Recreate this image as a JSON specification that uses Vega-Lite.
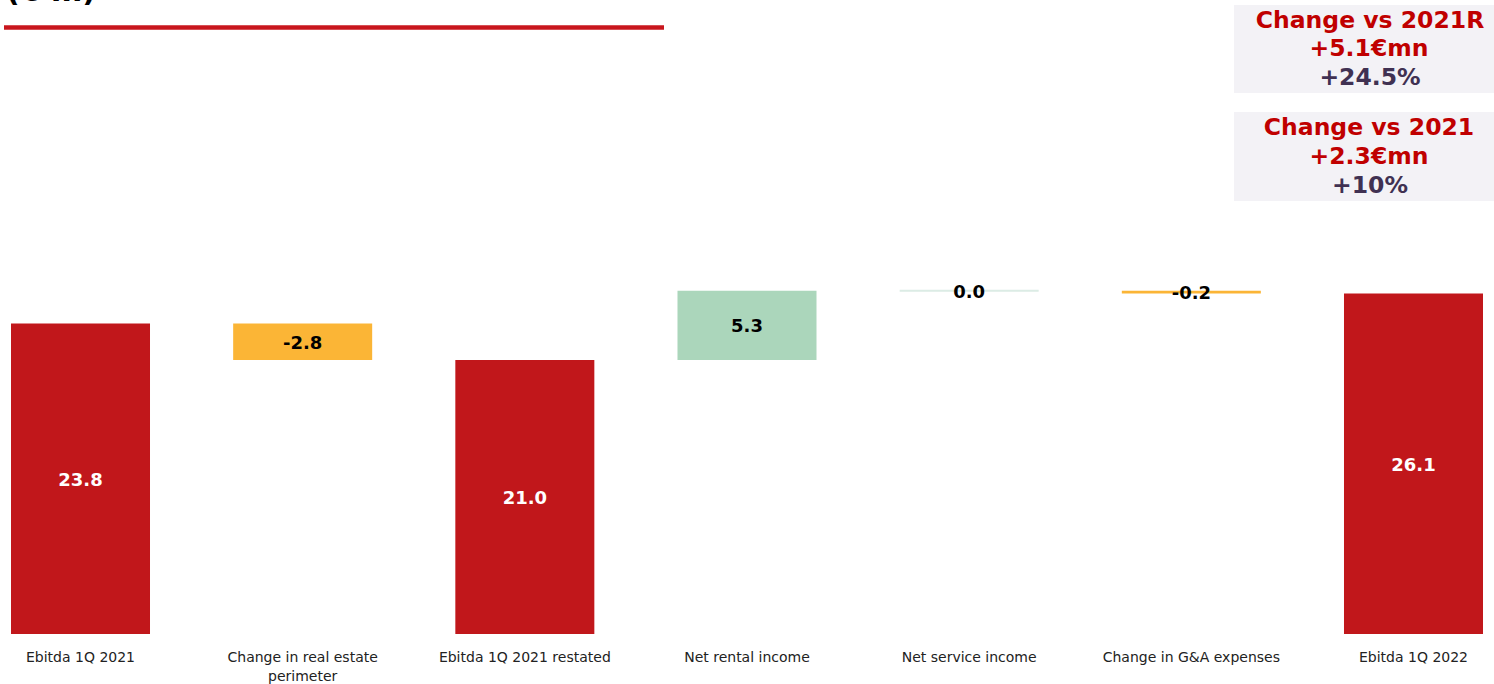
{
  "$schema": "https://vega.github.io/schema/vega-lite/v6.json",
  "width": 1494,
  "height": 634,
  "autosize": {"type": "none"},
  "padding": {"left": 0, "top": 0, "right": 0, "bottom": 50},
  "background": "white",
  "config": {"view": {"stroke": null}},
  "datasets": {
    "steps": [
      {"step": "Ebitda 1Q 2021", "kind": "total", "start": 0, "end": 23.8, "value": 23.8},
      {"step": "Change in real estate perimeter", "kind": "neg", "start": 23.8, "end": 21.0, "value": -2.8},
      {"step": "Ebitda 1Q 2021 restated", "kind": "total", "start": 0, "end": 21.0, "value": 21.0},
      {"step": "Net rental income", "kind": "pos", "start": 21.0, "end": 26.3, "value": 5.3},
      {"step": "Net service income", "kind": "zero", "start": 26.3, "end": 26.3, "value": 0.0},
      {"step": "Change in G&A expenses", "kind": "neg", "start": 26.3, "end": 26.1, "value": -0.2},
      {"step": "Ebitda 1Q 2022", "kind": "total", "start": 0, "end": 26.1, "value": 26.1}
    ],
    "boxes": [
      {"box": "vs 2021R", "left": 1234, "right": 1494, "top": 48.2, "bottom": 41.45},
      {"box": "vs 2021", "left": 1234, "right": 1494, "top": 40.0, "bottom": 33.18}
    ],
    "notes": [
      {"text": "Change vs 2021R", "role": "head", "pos": 1370, "level": 47.04},
      {"text": "+5.1€mn", "role": "head", "pos": 1369, "level": 44.9},
      {"text": "+24.5%", "role": "pct", "pos": 1370, "level": 42.68},
      {"text": "Change vs 2021", "role": "head", "pos": 1369, "level": 38.85},
      {"text": "+2.3€mn", "role": "head", "pos": 1369, "level": 36.63},
      {"text": "+10%", "role": "pct", "pos": 1370, "level": 34.41}
    ],
    "title": [
      {"text": "(€ m)", "pos": 6, "level": 48.54}
    ],
    "underline": [
      {"from": 4, "to": 664, "level": 46.47}
    ]
  },
  "layer": [
    {
      "data": {"name": "steps"},
      "encoding": {
        "x": {
          "field": "step",
          "type": "nominal",
          "sort": null,
          "scale": {"paddingInner": 0.3743, "paddingOuter": 0.0495},
          "axis": {
            "title": null,
            "labelAngle": 0,
            "domain": false,
            "ticks": false,
            "labelFont": "DejaVu Sans",
            "labelFontSize": 14,
            "labelColor": "#222222",
            "labelPadding": 16,
            "labelLineHeight": 19,
            "labelLimit": 300,
            "labelExpr": "datum.label == 'Change in real estate perimeter' ? ['Change in real estate', 'perimeter'] : datum.label"
          }
        }
      },
      "layer": [
        {
          "mark": {"type": "bar"},
          "encoding": {
            "y": {"field": "start", "type": "quantitative", "scale": {"domain": [0, 48.58], "nice": false, "zero": false}, "axis": null},
            "y2": {"field": "end"},
            "color": {
              "field": "kind",
              "type": "nominal",
              "scale": {"domain": ["total", "neg", "pos", "zero"], "range": ["#C1171B", "#FBB536", "#ABD6BB", "#DCECE5"]},
              "legend": null
            },
            "stroke": {
              "field": "kind",
              "type": "nominal",
              "scale": {"domain": ["total", "neg", "pos", "zero"], "range": ["#C1171B", "#FBB536", "#ABD6BB", "#DCECE5"]},
              "legend": null
            },
            "strokeWidth": {"condition": {"test": "datum.kind == 'zero'", "value": 2}, "value": 0}
          }
        },
        {
          "transform": [
            {"calculate": "(datum.start + datum.end) / 2", "as": "mid"},
            {"calculate": "replace(format(datum.value, '.1f'), '\u2212', '-')", "as": "shown"}
          ],
          "mark": {"type": "text", "font": "DejaVu Sans", "fontWeight": "bold", "fontSize": 18, "baseline": "middle", "align": "center", "dy": 2},
          "encoding": {
            "y": {"field": "mid", "type": "quantitative", "scale": {"domain": [0, 48.58], "nice": false, "zero": false}, "axis": null},
            "text": {"field": "shown", "type": "nominal"},
            "color": {"condition": {"test": "datum.kind == 'total'", "value": "white"}, "value": "black"}
          }
        }
      ]
    },
    {
      "layer": [
        {
          "data": {"name": "boxes"},
          "mark": {"type": "rect", "color": "#F3F2F6"},
          "encoding": {
            "x": {"field": "left", "type": "quantitative", "scale": {"domain": [0, 1494], "nice": false, "zero": false}, "axis": null},
            "x2": {"field": "right"},
            "y": {"field": "top", "type": "quantitative", "scale": {"domain": [0, 48.58], "nice": false, "zero": false}, "axis": null},
            "y2": {"field": "bottom"}
          }
        },
        {
          "data": {"name": "notes"},
          "mark": {"type": "text", "font": "DejaVu Sans", "fontWeight": "bold", "fontSize": 23.5, "align": "center", "baseline": "middle", "dy": 1},
          "encoding": {
            "x": {"field": "pos", "type": "quantitative", "scale": {"domain": [0, 1494], "nice": false, "zero": false}, "axis": null},
            "y": {"field": "level", "type": "quantitative", "scale": {"domain": [0, 48.58], "nice": false, "zero": false}, "axis": null},
            "text": {"field": "text", "type": "nominal"},
            "color": {"condition": {"test": "datum.role == 'pct'", "value": "#403152"}, "value": "#C00000"}
          }
        },
        {
          "data": {"name": "title"},
          "mark": {"type": "text", "font": "DejaVu Sans", "fontWeight": "bold", "fontSize": 30, "align": "left", "baseline": "alphabetic", "color": "black"},
          "encoding": {
            "x": {"field": "pos", "type": "quantitative", "scale": {"domain": [0, 1494], "nice": false, "zero": false}, "axis": null},
            "y": {"field": "level", "type": "quantitative", "scale": {"domain": [0, 48.58], "nice": false, "zero": false}, "axis": null},
            "text": {"field": "text", "type": "nominal"}
          }
        },
        {
          "data": {"name": "underline"},
          "mark": {"type": "rule", "color": "#C8161D", "strokeWidth": 4.5},
          "encoding": {
            "x": {"field": "from", "type": "quantitative", "scale": {"domain": [0, 1494], "nice": false, "zero": false}, "axis": null},
            "x2": {"field": "to"},
            "y": {"field": "level", "type": "quantitative", "scale": {"domain": [0, 48.58], "nice": false, "zero": false}, "axis": null}
          }
        }
      ]
    }
  ],
  "resolve": {"scale": {"x": "independent"}}
}
